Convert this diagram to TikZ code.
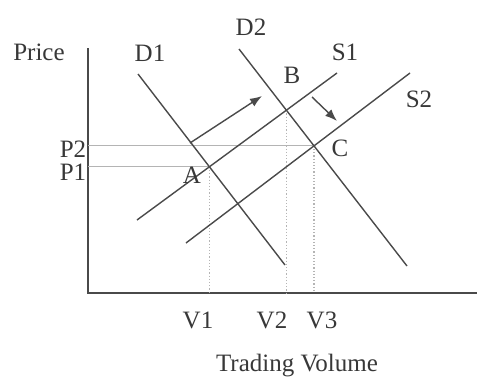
\documentclass[tikz,border=0pt]{standalone}
\usepackage{fontspec}
\setmainfont{Liberation Serif}
\usetikzlibrary{intersections,arrows.meta}
\definecolor{ink}{HTML}{4A4A4A}
\definecolor{txt}{HTML}{383838}
\definecolor{guide}{HTML}{B4B4B4}
\tikzset{
  curve/.style={draw=ink,line width=1.4pt},
  axisline/.style={draw=ink,line width=1.6pt},
  pline/.style={draw=guide,line width=1.1pt},
  vline/.style={draw=guide,line width=1.2pt,dotted},
  shift arrow/.style={draw=ink,line width=1.4pt,-{Latex[length=12pt,width=9pt]}},
  lbl/.style={text=txt,font=\fontsize{25}{27}\selectfont,inner sep=0pt}
}
\begin{document}
\begin{tikzpicture}[x=1pt,y=-1pt]
\useasboundingbox[fill=white] (0,0) rectangle (477,378);
% axes
\coordinate (O) at (88,293);
\coordinate (ytop) at (88,48);
\coordinate (xend) at (477,293);
\draw[axisline] (ytop) -- (O) -- (xend);
% curve end points
\coordinate (d1a) at (138,74);  \coordinate (d1b) at (285,265);
\coordinate (d2a) at (239,49);  \coordinate (d2b) at (407,266);
\coordinate (s1a) at (137,220); \coordinate (s1b) at (337,73);
\coordinate (s2a) at (186,243); \coordinate (s2b) at (410,73);
\path[name path=D1] (d1a) -- (d1b);
\path[name path=D2] (d2a) -- (d2b);
\path[name path=S1] (s1a) -- (s1b);
\path[name path=S2] (s2a) -- (s2b);
\path[name intersections={of=D1 and S1,by=A}];
\path[name intersections={of=D2 and S1,by=B}];
\path[name intersections={of=D2 and S2,by=C}];
% guide lines
\draw[pline] (O |- A) -- (A);
\draw[pline] (O |- C) -- (C);
\draw[vline] (A) -- (A |- O);
\draw[vline] (B) -- (B |- O);
\draw[vline] (C) -- (C |- O);
% curves
\draw[curve] (d1a) -- (d1b);
\draw[curve] (d2a) -- (d2b);
\draw[curve] (s1a) -- (s1b);
\draw[curve] (s2a) -- (s2b);
% shift arrows
\coordinate (ar1a) at (190,143); \coordinate (ar1b) at (262,96);
\coordinate (ar2a) at (312,97);  \coordinate (ar2b) at (337,121);
\draw[shift arrow] (ar1a) -- (ar1b);
\draw[shift arrow] (ar2a) -- (ar2b);
% labels
\node[lbl] (price) at (39,52) {Price};
\node[lbl] (lD1) at (150,53) {D1};
\node[lbl] (lD2) at (251,27) {D2};
\node[lbl] (lS1) at (345,52) {S1};
\node[lbl] (lS2) at (419,99) {S2};
\node[lbl] (lB) at (292,75) {B};
\node[lbl] (lC) at (340,148) {C};
\node[lbl] (lA) at (192,175) {A};
\node[lbl,anchor=base] (lP2) at (73,157) {P2};
\node[lbl,anchor=base] (lP1) at (73,180) {P1};
\node[lbl] (lV1) at (198,320) {V1};
\node[lbl] (lV2) at (272,320) {V2};
\node[lbl] (lV3) at (322,320) {V3};
\node[lbl] (xlabel) at (297,366) {Trading Volume};
\end{tikzpicture}
\end{document}
